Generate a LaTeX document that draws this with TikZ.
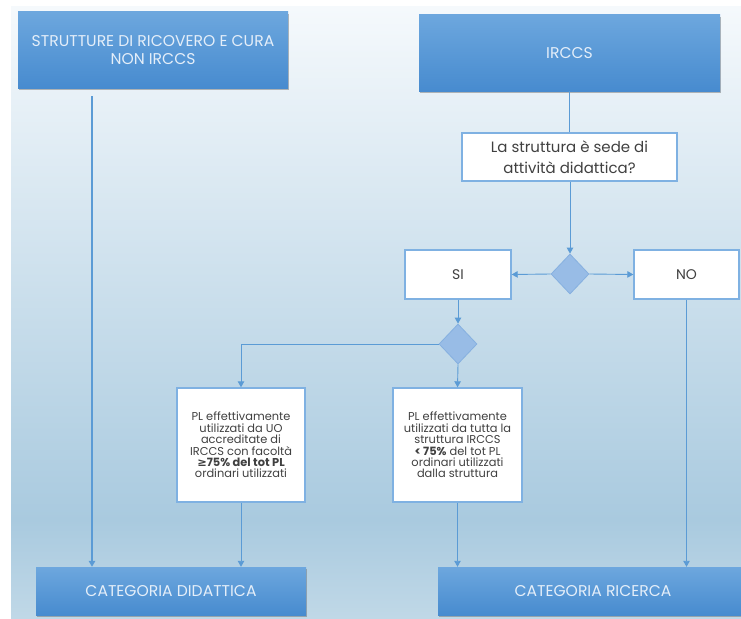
\documentclass[tikz,border=0pt]{standalone}
\usepackage{fontspec}
\setmainfont{Poppins}
\newfontfamily\symfont{DejaVu Sans}
\usetikzlibrary{shapes.geometric,arrows.meta,shadows,calc}
\definecolor{boxtop}{HTML}{6DA7DE}
\definecolor{boxbot}{HTML}{478BCF}
\definecolor{boxtxt}{HTML}{E4EEF9}
\definecolor{lnc}{HTML}{5B9BD5}
\definecolor{wbord}{HTML}{7FB1E2}
\definecolor{dfill}{HTML}{98BCE6}
\definecolor{dbord}{HTML}{86B0E0}
\definecolor{bgtop}{HTML}{F5F9FC}
\definecolor{bgmid}{HTML}{A9CADF}
\definecolor{bgbot}{HTML}{C0D8E7}
\definecolor{txtc}{HTML}{404040}
\tikzset{
  bluebox/.style={rectangle, top color=boxtop, bottom color=boxbot, draw=none,
    text=boxtxt, align=center, inner sep=0pt, font=\fontsize{15.6}{18.5}\selectfont,
    drop shadow={shadow xshift=1pt, shadow yshift=-2pt, opacity=.45, fill=black!60}},
  whitebox/.style={rectangle, fill=white, draw=wbord, line width=1.4pt,
    text=txtc, align=center, inner sep=0pt},
  decision/.style={diamond, fill=dfill, draw=dbord, line width=0.8pt, inner sep=0pt},
  conn/.style={draw=lnc, line width=0.9pt},
  arr/.style={conn, -{Triangle[length=6pt,width=6.5pt]}}
}
\begin{document}
\begin{tikzpicture}[x=1pt,y=-1pt]
\useasboundingbox (0,0) rectangle (741,618);
\fill[white] (0,0) rectangle (741,618);
\shade[top color=bgtop, bottom color=bgmid] (11,7) rectangle (741,520);
\shade[top color=bgmid, bottom color=bgbot] (11,519.5) rectangle (741,618);

\node[bluebox, minimum width=270pt, minimum height=76pt] (top1) at (153,50)
  {STRUTTURE DI RICOVERO E CURA\\NON IRCCS};
\node[bluebox, minimum width=301pt, minimum height=76pt] (irccs) at (569.5,53) {IRCCS};
\node[whitebox, minimum width=215pt, minimum height=48pt,
  font=\fontsize{15}{20.5}\selectfont] (q) at (569.5,157)
  {La struttura è sede di\\attività didattica?};
\node[decision, minimum width=38pt, minimum height=40pt] (d1) at (570,274) {};
\node[whitebox, minimum width=106pt, minimum height=49pt,
  font=\fontsize{14}{16}\selectfont] (si) at (458,274.5) {SI};
\node[whitebox, minimum width=105pt, minimum height=49pt,
  font=\fontsize{14}{16}\selectfont] (no) at (686.5,274.5) {NO};
\node[decision, minimum width=38pt, minimum height=40pt] (d2) at (458,344) {};
\node[whitebox, minimum width=128pt, minimum height=114pt,
  font=\fontsize{11.4}{11.4}\selectfont] (b1) at (241,445)
  {PL effettivamente\\utilizzati da UO\\accreditate di\\IRCCS con facoltà\\
   \textbf{{\symfont\bfseries ≥}75\% del tot PL}\\ordinari utilizzati};
\node[whitebox, minimum width=129pt, minimum height=114pt,
  font=\fontsize{11.4}{11.4}\selectfont] (b2) at (457.5,445)
  {PL effettivamente\\utilizzati da tutta la\\struttura IRCCS\\
   \textbf{< 75\%} del tot PL\\ordinari utilizzati\\dalla struttura};
\node[bluebox, minimum width=270pt, minimum height=48pt] (cd) at (171,591)
  {CATEGORIA DIDATTICA};
\node[bluebox, minimum width=310pt, minimum height=48pt] (cr) at (593,591)
  {CATEGORIA RICERCA};

\coordinate (s1) at (92,96);
\draw[arr, line width=1.4pt] (s1) -- (s1 |- cd.north);
\draw[conn] (irccs.south) -- (q.north -| irccs.south);
\draw[arr] (q.south -| d1.north) -- (d1.north);
\draw[arr] (d1.west) -- (si.east);
\draw[arr] (d1.east) -- (no.west);
\draw[arr] (si.south) -- (d2.north);
\draw[arr] (d2.west) -| (b1.north);
\draw[arr] (d2.south) -- (b2.north);
\draw[arr] (b1.south) -- (b1.south |- cd.north);
\draw[arr] (b2.south) -- (b2.south |- cr.north);
\draw[arr] (no.south) -- (no.south |- cr.north);
\end{tikzpicture}
\end{document}
